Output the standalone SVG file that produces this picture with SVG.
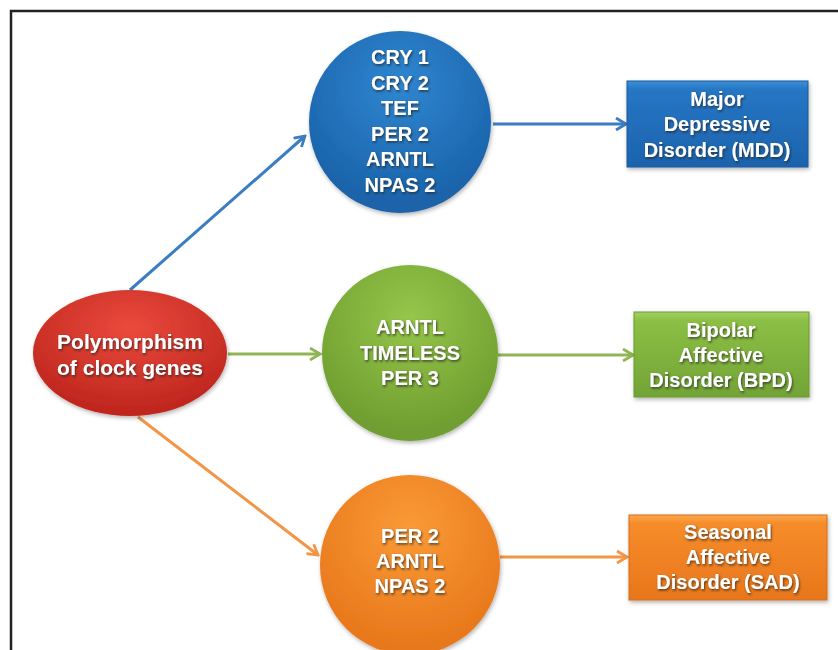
<svg xmlns="http://www.w3.org/2000/svg" width="838" height="650" viewBox="0 0 838 650">
  <defs>
    <style>
      .t { font-family: "Liberation Sans", Arial, sans-serif; font-weight: bold; font-size: 20px; fill: #ffffff; text-anchor: middle; filter: url(#ts); }
      .c-blue { stroke: #3a7dc0; }
      .c-green { stroke: #8fb556; }
      .c-orange { stroke: #f29547; }
      .conn { fill: none; stroke-width: 3; }
    </style>
    <filter id="ts" x="-10%" y="-30%" width="120%" height="160%">
      <feDropShadow dx="1" dy="1.5" stdDeviation="0.8" flood-color="#202020" flood-opacity="0.75"/>
    </filter>
    <filter id="sh" x="-10%" y="-10%" width="125%" height="125%">
      <feDropShadow dx="1" dy="2" stdDeviation="2" flood-color="#000" flood-opacity="0.3"/>
    </filter>
    <radialGradient id="gRed" cx="50%" cy="30%" r="65%">
      <stop offset="0" stop-color="#ea4a3c"/>
      <stop offset="1" stop-color="#c0271f"/>
    </radialGradient>
    <radialGradient id="gBlue" cx="50%" cy="30%" r="65%">
      <stop offset="0" stop-color="#2f86d0"/>
      <stop offset="1" stop-color="#1a63aa"/>
    </radialGradient>
    <radialGradient id="gGreen" cx="50%" cy="30%" r="65%">
      <stop offset="0" stop-color="#96c64a"/>
      <stop offset="1" stop-color="#6f9e30"/>
    </radialGradient>
    <radialGradient id="gOrange" cx="50%" cy="30%" r="65%">
      <stop offset="0" stop-color="#fa9a36"/>
      <stop offset="1" stop-color="#e8781c"/>
    </radialGradient>
    <linearGradient id="rBlue" x1="0" y1="0" x2="0" y2="1">
      <stop offset="0" stop-color="#3b8fd6"/>
      <stop offset="0.1" stop-color="#2676c4"/>
      <stop offset="1" stop-color="#1c63ad"/>
    </linearGradient>
    <linearGradient id="rGreen" x1="0" y1="0" x2="0" y2="1">
      <stop offset="0" stop-color="#a3d060"/>
      <stop offset="0.1" stop-color="#8cbf45"/>
      <stop offset="1" stop-color="#72a336"/>
    </linearGradient>
    <linearGradient id="rOrange" x1="0" y1="0" x2="0" y2="1">
      <stop offset="0" stop-color="#fba84e"/>
      <stop offset="0.1" stop-color="#f68c2a"/>
      <stop offset="1" stop-color="#e8761c"/>
    </linearGradient>
    <marker id="aBlue" viewBox="0 0 14 14" refX="12" refY="7" markerWidth="14" markerHeight="14" markerUnits="userSpaceOnUse" orient="auto">
      <path d="M2,1 L12,7 L2,13" fill="none" stroke="#3a7dc0" stroke-width="2.8"/>
    </marker>
    <marker id="aGreen" viewBox="0 0 14 14" refX="12" refY="7" markerWidth="14" markerHeight="14" markerUnits="userSpaceOnUse" orient="auto">
      <path d="M2,1 L12,7 L2,13" fill="none" stroke="#8fb556" stroke-width="2.8"/>
    </marker>
    <marker id="aOrange" viewBox="0 0 14 14" refX="12" refY="7" markerWidth="14" markerHeight="14" markerUnits="userSpaceOnUse" orient="auto">
      <path d="M2,1 L12,7 L2,13" fill="none" stroke="#f29547" stroke-width="2.8"/>
    </marker>
  </defs>

  <rect width="838" height="650" fill="#ffffff"/>
  <path d="M11,651 L11,11 L840,11" fill="none" stroke="#222" stroke-width="2.5"/>

  <g id="connectors">
    <line class="conn c-blue" x1="130" y1="290" x2="305" y2="136" marker-end="url(#aBlue)"/>
    <line class="conn c-blue" x1="493" y1="124" x2="626" y2="124" marker-end="url(#aBlue)"/>
    <line class="conn c-green" x1="228" y1="354" x2="320" y2="354" marker-end="url(#aGreen)"/>
    <line class="conn c-green" x1="498" y1="355" x2="633" y2="355" marker-end="url(#aGreen)"/>
    <line class="conn c-orange" x1="138" y1="417" x2="318" y2="555" marker-end="url(#aOrange)"/>
    <line class="conn c-orange" x1="500" y1="557" x2="627" y2="557" marker-end="url(#aOrange)"/>
  </g>

  <g id="polymorphism">
    <ellipse cx="130" cy="353" rx="97" ry="63" fill="url(#gRed)" filter="url(#sh)"/>
    <text class="t" style="font-size:21px" x="130" y="349">Polymorphism</text>
    <text class="t" style="font-size:21px" x="130" y="375">of clock genes</text>
  </g>

  <g id="genes-mdd">
    <circle cx="400" cy="122" r="91" fill="url(#gBlue)" filter="url(#sh)"/>
    <text class="t" x="400" y="64">CRY 1</text>
    <text class="t" x="400" y="90">CRY 2</text>
    <text class="t" x="400" y="115">TEF</text>
    <text class="t" x="400" y="141">PER 2</text>
    <text class="t" x="400" y="166">ARNTL</text>
    <text class="t" x="400" y="192">NPAS 2</text>
  </g>

  <g id="genes-bpd">
    <circle cx="410" cy="353" r="88" fill="url(#gGreen)" filter="url(#sh)"/>
    <text class="t" x="410" y="334">ARNTL</text>
    <text class="t" x="410" y="360">TIMELESS</text>
    <text class="t" x="410" y="385">PER 3</text>
  </g>

  <g id="genes-sad">
    <circle cx="410" cy="565" r="90" fill="url(#gOrange)" filter="url(#sh)"/>
    <text class="t" x="410" y="543">PER 2</text>
    <text class="t" x="410" y="568">ARNTL</text>
    <text class="t" x="410" y="593">NPAS 2</text>
  </g>

  <g id="mdd">
    <rect x="627" y="81" width="181" height="86" fill="url(#rBlue)" stroke="#1a5a9c" stroke-width="1" filter="url(#sh)"/>
    <text class="t" x="717" y="106">Major</text>
    <text class="t" x="717" y="131">Depressive</text>
    <text class="t" x="717" y="157">Disorder (MDD)</text>
  </g>

  <g id="bpd">
    <rect x="634" y="312" width="175" height="85" fill="url(#rGreen)" stroke="#6a9a2e" stroke-width="1" filter="url(#sh)"/>
    <text class="t" x="721" y="337">Bipolar</text>
    <text class="t" x="721" y="362">Affective</text>
    <text class="t" x="721" y="387">Disorder (BPD)</text>
  </g>

  <g id="sad">
    <rect x="629" y="515" width="198" height="85" fill="url(#rOrange)" stroke="#d86c16" stroke-width="1" filter="url(#sh)"/>
    <text class="t" x="728" y="539">Seasonal</text>
    <text class="t" x="728" y="564">Affective</text>
    <text class="t" x="728" y="589">Disorder (SAD)</text>
  </g>
</svg>
